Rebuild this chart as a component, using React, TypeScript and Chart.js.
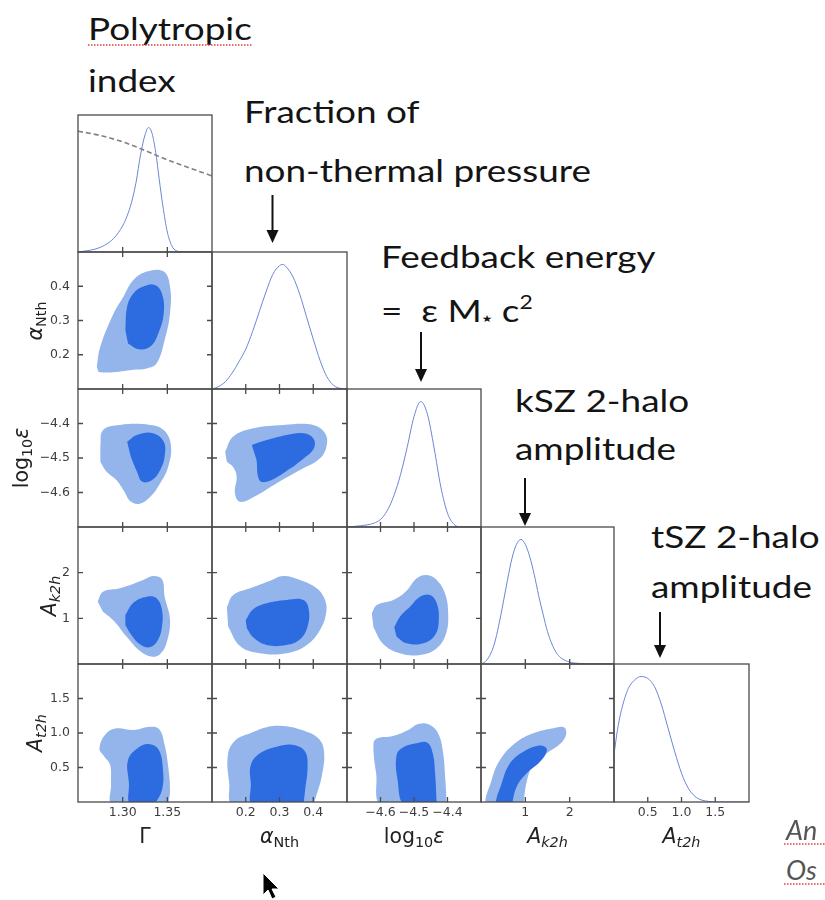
import React, { useEffect, useRef } from "react";
import { Chart, registerables } from "chart.js";
Chart.register(...registerables);

type Pt = [number, number];

// ---------- axis ranges and ticks ----------
const gammaRange: Pt = [1.25, 1.4];
const alphaRange: Pt = [0.1, 0.5];
const epsRange: Pt = [-4.7, -4.3];
const akRange: Pt = [0, 3];
const atRange: Pt = [0, 2];
const densityRange: Pt = [0, 1.1];

const gammaTicks = [1.3, 1.35];
const alphaTicks = [0.2, 0.3, 0.4];
const epsTicks = [-4.6, -4.5, -4.4];
const akTicks = [1, 2];
const atTicks = [0.5, 1.0, 1.5];

// ---------- 1D marginals (peak normalised to 1) ----------
const gammaGrid = [1.25, 1.26, 1.27, 1.28, 1.29, 1.3, 1.305, 1.31, 1.315, 1.32, 1.325, 1.329, 1.333, 1.337, 1.341, 1.345, 1.35, 1.355, 1.36, 1.37, 1.4];
const gammaDensity = [0.0, 0.01, 0.025, 0.055, 0.11, 0.21, 0.29, 0.4, 0.56, 0.78, 0.94, 1.0, 0.95, 0.8, 0.58, 0.37, 0.16, 0.05, 0.01, 0.0, 0.0];
const gammaPriorGrid = [1.25, 1.275, 1.3, 1.325, 1.35, 1.375, 1.4];
const gammaPrior = [0.97, 0.935, 0.885, 0.815, 0.74, 0.675, 0.61];

const alphaGrid = [0.1, 0.12, 0.14, 0.16, 0.18, 0.2, 0.22, 0.24, 0.26, 0.28, 0.3, 0.31, 0.32, 0.34, 0.36, 0.38, 0.4, 0.42, 0.44, 0.46, 0.48, 0.5];
const alphaDensity = [0.0, 0.02, 0.06, 0.13, 0.22, 0.32, 0.46, 0.62, 0.78, 0.92, 0.99, 1.0, 0.98, 0.9, 0.76, 0.58, 0.4, 0.23, 0.1, 0.03, 0.005, 0.0];

const epsGrid = [-4.7, -4.66, -4.62, -4.6, -4.58, -4.56, -4.54, -4.52, -4.5, -4.48, -4.46, -4.44, -4.42, -4.4, -4.38, -4.36, -4.3];
const epsDensity = [0.0, 0.01, 0.03, 0.06, 0.13, 0.25, 0.42, 0.64, 0.88, 1.0, 0.9, 0.63, 0.32, 0.11, 0.02, 0.0, 0.0];

const akGrid = [0, 0.1, 0.2, 0.3, 0.4, 0.5, 0.6, 0.7, 0.8, 0.9, 1.0, 1.1, 1.2, 1.3, 1.4, 1.5, 1.6, 1.7, 1.8, 2.0, 2.2, 2.5, 3.0];
const akDensity = [0.0, 0.02, 0.07, 0.16, 0.31, 0.49, 0.68, 0.85, 0.96, 1.0, 0.96, 0.86, 0.72, 0.55, 0.4, 0.26, 0.16, 0.09, 0.05, 0.015, 0.005, 0.0, 0.0];

const atGrid = [0, 0.05, 0.1, 0.2, 0.3, 0.4, 0.5, 0.6, 0.7, 0.8, 0.9, 1.0, 1.1, 1.2, 1.3, 1.4, 1.5, 1.6, 2.0];
const atDensity = [0.38, 0.57, 0.71, 0.89, 0.97, 1.0, 0.985, 0.92, 0.78, 0.59, 0.4, 0.23, 0.11, 0.045, 0.015, 0.005, 0.0, 0.0, 0.0];

// ---------- 2D contours (68% inner, 95% outer), [x, y] in data units ----------
const alphaGammaOuter: Pt[] = [[1.271, 0.165], [1.275, 0.224], [1.29, 0.321], [1.301, 0.37], [1.312, 0.418], [1.327, 0.443], [1.346, 0.443], [1.353, 0.399], [1.353, 0.321], [1.347, 0.243], [1.338, 0.175], [1.327, 0.16], [1.312, 0.156], [1.286, 0.148], [1.273, 0.15]];
const alphaGammaInner: Pt[] = [[1.303, 0.272], [1.305, 0.34], [1.312, 0.379], [1.323, 0.399], [1.336, 0.404], [1.344, 0.379], [1.346, 0.321], [1.34, 0.263], [1.331, 0.224], [1.318, 0.216], [1.306, 0.233]];

const epsGammaOuter: Pt[] = [[1.275, -4.467], [1.278, -4.419], [1.297, -4.404], [1.331, -4.404], [1.346, -4.419], [1.354, -4.462], [1.351, -4.525], [1.342, -4.573], [1.331, -4.612], [1.318, -4.633], [1.308, -4.624], [1.302, -4.598], [1.293, -4.564], [1.282, -4.54], [1.275, -4.511]];
const epsGammaInner: Pt[] = [[1.305, -4.453], [1.316, -4.433], [1.334, -4.428], [1.346, -4.453], [1.347, -4.496], [1.342, -4.535], [1.333, -4.564], [1.322, -4.569], [1.316, -4.54], [1.309, -4.496]];

const epsAlphaOuter: Pt[] = [[0.139, -4.482], [0.163, -4.438], [0.222, -4.414], [0.311, -4.404], [0.4, -4.404], [0.435, -4.428], [0.44, -4.462], [0.42, -4.501], [0.361, -4.535], [0.292, -4.573], [0.222, -4.614], [0.183, -4.627], [0.168, -4.602], [0.173, -4.554], [0.163, -4.527], [0.144, -4.511]];
const epsAlphaInner: Pt[] = [[0.218, -4.462], [0.262, -4.448], [0.321, -4.433], [0.371, -4.428], [0.4, -4.443], [0.402, -4.472], [0.366, -4.506], [0.311, -4.544], [0.262, -4.569], [0.24, -4.564], [0.232, -4.506]];

const akGammaOuter: Pt[] = [[1.272, 1.364], [1.278, 1.583], [1.297, 1.657], [1.323, 1.839], [1.334, 1.927], [1.344, 1.855], [1.347, 1.474], [1.353, 0.964], [1.349, 0.453], [1.342, 0.219], [1.333, 0.16], [1.319, 0.292], [1.305, 0.584], [1.29, 0.948], [1.278, 1.146]];
const akGammaInner: Pt[] = [[1.303, 1.073], [1.312, 1.343], [1.327, 1.474], [1.338, 1.438], [1.344, 1.182], [1.344, 0.817], [1.339, 0.511], [1.33, 0.365], [1.319, 0.438], [1.309, 0.657], [1.303, 0.854]];

const akAlphaOuter: Pt[] = [[0.144, 1.242], [0.163, 1.511], [0.213, 1.657], [0.272, 1.824], [0.311, 1.927], [0.361, 1.839], [0.41, 1.657], [0.435, 1.401], [0.438, 1.11], [0.42, 0.745], [0.381, 0.416], [0.321, 0.234], [0.242, 0.234], [0.183, 0.394], [0.148, 0.817]];
const akAlphaInner: Pt[] = [[0.2, 0.964], [0.222, 1.198], [0.262, 1.328], [0.321, 1.401], [0.371, 1.401], [0.387, 1.182], [0.383, 0.817], [0.361, 0.541], [0.321, 0.416], [0.262, 0.416], [0.222, 0.584], [0.203, 0.781]];

const akEpsOuter: Pt[] = [[-4.626, 1.11], [-4.611, 1.292], [-4.562, 1.401], [-4.522, 1.606], [-4.492, 1.876], [-4.462, 1.949], [-4.432, 1.839], [-4.407, 1.533], [-4.398, 1.11], [-4.404, 0.672], [-4.432, 0.344], [-4.482, 0.197], [-4.542, 0.234], [-4.592, 0.438], [-4.621, 0.803]];
const akEpsInner: Pt[] = [[-4.559, 0.803], [-4.542, 1.036], [-4.512, 1.255], [-4.482, 1.474], [-4.452, 1.511], [-4.432, 1.328], [-4.426, 0.964], [-4.437, 0.635], [-4.472, 0.453], [-4.522, 0.453], [-4.552, 0.599]];

const atGammaOuter: Pt[] = [[1.351, -0.05], [1.289, -0.05], [1.287, 0.271], [1.286, 0.536], [1.279, 0.667], [1.274, 0.778], [1.281, 0.986], [1.293, 1.068], [1.312, 1.043], [1.331, 1.091], [1.341, 1.053], [1.347, 0.826], [1.351, 0.512], [1.353, 0.174], [1.351, -0.05]];
const atGammaInner: Pt[] = [[1.335, -0.05], [1.309, -0.05], [1.307, 0.271], [1.306, 0.609], [1.318, 0.793], [1.329, 0.841], [1.34, 0.764], [1.345, 0.488], [1.344, 0.174], [1.335, -0.05]];

const atAlphaOuter: Pt[] = [[0.4, -0.05], [0.163, -0.05], [0.151, 0.271], [0.147, 0.681], [0.168, 0.889], [0.213, 0.995], [0.267, 1.091], [0.311, 1.101], [0.366, 1.043], [0.415, 0.923], [0.432, 0.729], [0.425, 0.367], [0.408, 0.077], [0.4, -0.05]];
const atAlphaInner: Pt[] = [[0.371, -0.05], [0.222, -0.05], [0.215, 0.271], [0.215, 0.536], [0.242, 0.705], [0.292, 0.801], [0.341, 0.826], [0.376, 0.729], [0.383, 0.488], [0.376, 0.174], [0.371, -0.05]];

const atEpsOuter: Pt[] = [[-4.402, -0.05], [-4.596, -0.05], [-4.613, 0.416], [-4.621, 0.841], [-4.61, 0.923], [-4.562, 0.957], [-4.517, 1.043], [-4.487, 1.13], [-4.452, 1.116], [-4.427, 0.986], [-4.413, 0.706], [-4.407, 0.367], [-4.402, -0.05]];
const atEpsInner: Pt[] = [[-4.432, -0.05], [-4.527, -0.05], [-4.549, 0.319], [-4.552, 0.681], [-4.532, 0.793], [-4.492, 0.851], [-4.46, 0.86], [-4.444, 0.706], [-4.437, 0.416], [-4.432, -0.05]];

const atAkOuter: Pt[] = [[0.954, -0.05], [0.142, -0.05], [0.241, 0.319], [0.429, 0.609], [0.767, 0.851], [1.18, 0.995], [1.631, 1.068], [1.872, 1.082], [1.917, 0.971], [1.782, 0.841], [1.482, 0.706], [1.18, 0.536], [1.031, 0.294], [0.954, -0.05]];
const atAkInner: Pt[] = [[0.692, -0.05], [0.354, -0.05], [0.467, 0.271], [0.654, 0.561], [0.954, 0.729], [1.256, 0.812], [1.444, 0.801], [1.482, 0.729], [1.331, 0.584], [1.031, 0.416], [0.805, 0.222], [0.692, -0.05]];

// ---------- assembly ----------
const minus = (s: string) => s.replace("-", "\u2212");
const VARS = [
  { range: gammaRange, ticks: gammaTicks, fmt: (v: number) => v.toFixed(2) },
  { range: alphaRange, ticks: alphaTicks, fmt: (v: number) => v.toFixed(1) },
  { range: epsRange, ticks: epsTicks, fmt: (v: number) => minus(v.toFixed(1)) },
  { range: akRange, ticks: akTicks, fmt: (v: number) => String(Math.round(v)) },
  { range: atRange, ticks: atTicks, fmt: (v: number) => v.toFixed(1) },
];
const MARGINALS = [
  { grid: gammaGrid, dens: gammaDensity },
  { grid: alphaGrid, dens: alphaDensity },
  { grid: epsGrid, dens: epsDensity },
  { grid: akGrid, dens: akDensity },
  { grid: atGrid, dens: atDensity },
];
const CONTOURS: Record<string, [Pt[], Pt[]]> = {
  "1-0": [alphaGammaInner, alphaGammaOuter],
  "2-0": [epsGammaInner, epsGammaOuter],
  "2-1": [epsAlphaInner, epsAlphaOuter],
  "3-0": [akGammaInner, akGammaOuter],
  "3-1": [akAlphaInner, akAlphaOuter],
  "3-2": [akEpsInner, akEpsOuter],
  "4-0": [atGammaInner, atGammaOuter],
  "4-1": [atAlphaInner, atAlphaOuter],
  "4-2": [atEpsInner, atEpsOuter],
  "4-3": [atAkInner, atAkOuter],
};

const COL_EDGES = [78, 212, 347, 481, 614, 749];
const ROW_EDGES = [115, 252, 389, 527, 664, 802];

const INNER_FILL = "rgb(44,108,224)";
const OUTER_FILL = "rgb(147,181,236)";
const LINE_COLOR = "rgb(105,135,215)";
const FRAME = "#4a4a4a";
const TICK_FONT = { family: "'DejaVu Sans', sans-serif", size: 12.5 };
const TICK_COLOR = "#3d3d3d";

function toXY(xs: number[], ys: number[]) {
  return xs.map((x, i) => ({ x, y: ys[i] }));
}

function Panel({ r, c }: { r: number; c: number }) {
  const ref = useRef<HTMLCanvasElement | null>(null);
  const diag = r === c;
  const padL = c === 0 && r > 0 ? 78 : 3;
  const padB = r === 4 ? 40 : 3;
  const padT = 3;
  const padR = 3;
  const x0 = COL_EDGES[c], x1 = COL_EDGES[c + 1];
  const y0 = ROW_EDGES[r], y1 = ROW_EDGES[r + 1];
  const W = x1 - x0 + padL + padR;
  const H = y1 - y0 + padT + padB;

  useEffect(() => {
    if (!ref.current) return;
    const xv = VARS[c];
    const yv = diag ? null : VARS[r];
    let datasets: any[] = [];
    if (diag) {
      const m = MARGINALS[r];
      datasets.push({
        data: toXY(m.grid, m.dens),
        borderColor: LINE_COLOR,
        borderWidth: 1,
        pointRadius: 0,
        fill: false,
        cubicInterpolationMode: "monotone",
      });
      if (r === 0) {
        datasets.push({
          data: toXY(gammaPriorGrid, gammaPrior),
          borderColor: "rgb(128,128,140)",
          borderWidth: 1.6,
          borderDash: [5, 3],
          pointRadius: 0,
          fill: false,
          cubicInterpolationMode: "monotone",
        });
      }
    } else {
      const [inner, outer] = CONTOURS[`${r}-${c}`];
      const mk = (pts: Pt[], col: string) => ({
        data: pts.map(([x, y]) => ({ x, y })),
        backgroundColor: col,
        borderColor: col,
        borderWidth: 0,
        pointRadius: 0,
        fill: "shape",
        tension: 0.4,
      });
      datasets = [mk(inner, INNER_FILL), mk(outer, OUTER_FILL)];
    }

    const xTicks = xv.ticks;
    const yTicks = yv ? yv.ticks : [];
    const frame = {
      id: "frame" + r + c,
      afterDraw(chart: any) {
        const { ctx, chartArea: a, scales } = chart;
        ctx.save();
        ctx.strokeStyle = FRAME;
        ctx.lineWidth = 1.3;
        ctx.strokeRect(a.left, a.top, a.right - a.left, a.bottom - a.top);
        const L = 5;
        ctx.beginPath();
        xTicks.forEach((v: number) => {
          const px = scales.x.getPixelForValue(v);
          ctx.moveTo(px, a.bottom);
          ctx.lineTo(px, a.bottom - L);
          if (!diag) {
            ctx.moveTo(px, a.top);
            ctx.lineTo(px, a.top + L);
          }
        });
        yTicks.forEach((v: number) => {
          const py = scales.y.getPixelForValue(v);
          ctx.moveTo(a.left, py);
          ctx.lineTo(a.left + L, py);
          ctx.moveTo(a.right, py);
          ctx.lineTo(a.right - L, py);
        });
        ctx.stroke();
        ctx.restore();
      },
    };

    const yRange = yv ? yv.range : densityRange;
    const chart = new Chart(ref.current, {
      type: "line",
      data: { datasets },
      options: {
        responsive: false,
        animation: false,
        devicePixelRatio: 1,
        events: [],
        layout: { padding: { top: padT, right: padR, left: 0, bottom: 0 } },
        plugins: { legend: { display: false }, tooltip: { enabled: false } },
        scales: {
          x: {
            type: "linear",
            min: xv.range[0],
            max: xv.range[1],
            afterBuildTicks: (s: any) => {
              s.ticks = xTicks.map((v: number) => ({ value: v }));
            },
            afterFit: (s: any) => {
              s.height = padB;
              s.paddingLeft = 0;
              s.paddingRight = 0;
              s.paddingTop = 0;
              s.paddingBottom = 0;
            },
            grid: { display: false, drawTicks: false },
            border: { display: false },
            ticks: {
              display: r === 4,
              autoSkip: false,
              maxRotation: 0,
              padding: 3,
              color: TICK_COLOR,
              font: TICK_FONT,
              callback: (v: any) => xv.fmt(Number(v)),
            },
          },
          y: {
            type: "linear",
            min: yRange[0],
            max: yRange[1],
            afterBuildTicks: (s: any) => {
              s.ticks = yTicks.map((v: number) => ({ value: v }));
            },
            afterFit: (s: any) => {
              s.width = padL;
              s.paddingLeft = 0;
              s.paddingRight = 0;
              s.paddingTop = 0;
              s.paddingBottom = 0;
            },
            grid: { display: false, drawTicks: false },
            border: { display: false },
            ticks: {
              display: c === 0 && !diag,
              autoSkip: false,
              padding: 8,
              color: TICK_COLOR,
              font: TICK_FONT,
              callback: (v: any) => (yv ? yv.fmt(Number(v)) : ""),
            },
          },
        },
      } as any,
      plugins: [frame],
    } as any);
    return () => chart.destroy();
  }, []);

  return (
    <canvas
      ref={ref}
      width={W}
      height={H}
      style={{ position: "absolute", left: x0 - padL, top: y0 - padT, width: W, height: H }}
    />
  );
}

const MATH = "'DejaVu Sans', sans-serif";
const ANN = "Lato, 'DejaVu Sans', sans-serif";
const sub = (s: string, italic = false) => (
  <span style={{ fontSize: "0.7em", verticalAlign: "-0.28em", fontStyle: italic ? "italic" : "normal" }}>{s}</span>
);

function Ann({ left, top, children, size = 30 }: any) {
  return (
    <div style={{ position: "absolute", left, top, fontFamily: ANN, fontSize: size, lineHeight: 1, whiteSpace: "nowrap", color: "#141414", transform: "scaleX(1.23)", transformOrigin: "0 0" }}>
      {children}
    </div>
  );
}

export default function App() {
  const panels: React.ReactNode[] = [];
  for (let r = 0; r < 5; r++) for (let c = 0; c <= r; c++) panels.push(<Panel key={`${r}-${c}`} r={r} c={c} />);

  const xTitles = [
    <span>Γ</span>,
    <span><i>α</i>{sub("Nth")}</span>,
    <span>log{sub("10")}<i>ε</i></span>,
    <span><i>A</i>{sub("k2h", true)}</span>,
    <span><i>A</i>{sub("t2h", true)}</span>,
  ];
  const yTitles = [
    { r: 1, x: 37, node: xTitles[1] },
    { r: 2, x: 23, node: xTitles[2] },
    { r: 3, x: 51, node: xTitles[3] },
    { r: 4, x: 37, node: xTitles[4] },
  ];

  const arrows = [
    { x: 272.5, y1: 195, y2: 243 },
    { x: 421, y1: 332, y2: 382 },
    { x: 525, y1: 478, y2: 526 },
    { x: 660, y1: 612, y2: 658 },
  ];

  return (
    <div style={{ position: "absolute", left: 0, top: 0, width: 825, height: 900, overflow: "hidden", background: "#fff" }}>
      {panels}
      {xTitles.map((n, i) => (
        <div key={"xt" + i} style={{ position: "absolute", left: (COL_EDGES[i] + COL_EDGES[i + 1]) / 2, top: 826, transform: "translateX(-50%)", fontFamily: MATH, fontSize: 20.5, lineHeight: 1, whiteSpace: "nowrap", color: "#222" }}>
          {n}
        </div>
      ))}
      {yTitles.map((t, i) => (
        <div key={"yt" + i} style={{ position: "absolute", left: t.x, top: (ROW_EDGES[t.r] + ROW_EDGES[t.r + 1]) / 2, transform: "translate(-50%,-50%) rotate(-90deg)", fontFamily: MATH, fontSize: 20.5, lineHeight: 1, whiteSpace: "nowrap", color: "#222" }}>
          {t.node}
        </div>
      ))}

      <Ann left={88} top={13}>Polytropic</Ann>
      <Ann left={88} top={65}>index</Ann>
      <Ann left={244} top={96}>Fraction of</Ann>
      <Ann left={244} top={155}>non-thermal pressure</Ann>
      <Ann left={381} top={241}>Feedback energy</Ann>
      <Ann left={381} top={293}>
        =&nbsp;&nbsp;ε M<span style={{ fontSize: "0.32em" }}>★</span> c<span style={{ fontSize: "0.62em", verticalAlign: "0.7em" }}>2</span>
      </Ann>
      <Ann left={515} top={385}>kSZ 2-halo</Ann>
      <Ann left={515} top={433}>amplitude</Ann>
      <Ann left={651} top={521}>tSZ 2-halo</Ann>
      <Ann left={651} top={571}>amplitude</Ann>

      <div style={{ position: "absolute", left: 786, top: 816, fontFamily: ANN, fontStyle: "italic", fontSize: 27, lineHeight: 1, color: "#555", whiteSpace: "nowrap" }}>An</div>
      <div style={{ position: "absolute", left: 786, top: 856, fontFamily: ANN, fontStyle: "italic", fontSize: 27, lineHeight: 1, color: "#555", whiteSpace: "nowrap" }}>Os</div>

      <svg width={825} height={900} style={{ position: "absolute", left: 0, top: 0, pointerEvents: "none" }}>
        {arrows.map((a, i) => (
          <g key={i}>
            <line x1={a.x} y1={a.y1} x2={a.x} y2={a.y2 - 10} stroke="#111" strokeWidth={2} />
            <polygon points={`${a.x - 6},${a.y2 - 13} ${a.x + 6},${a.y2 - 13} ${a.x},${a.y2}`} fill="#111" />
          </g>
        ))}
        <line x1={88} y1={45} x2={253} y2={45} stroke="rgb(225,60,60)" strokeWidth={1.5} strokeDasharray="1.5 1.5" />
        <line x1={784} y1={844} x2={825} y2={844} stroke="rgb(225,60,60)" strokeWidth={1.5} strokeDasharray="1.5 1.5" />
        <line x1={784} y1={884} x2={825} y2={884} stroke="rgb(225,60,60)" strokeWidth={1.5} strokeDasharray="1.5 1.5" />
        <polygon points="263,873 263,895 268,890 272,899 276,897 272,889 279,889" fill="#000" stroke="#fff" strokeWidth={1} />
      </svg>
    </div>
  );
}
